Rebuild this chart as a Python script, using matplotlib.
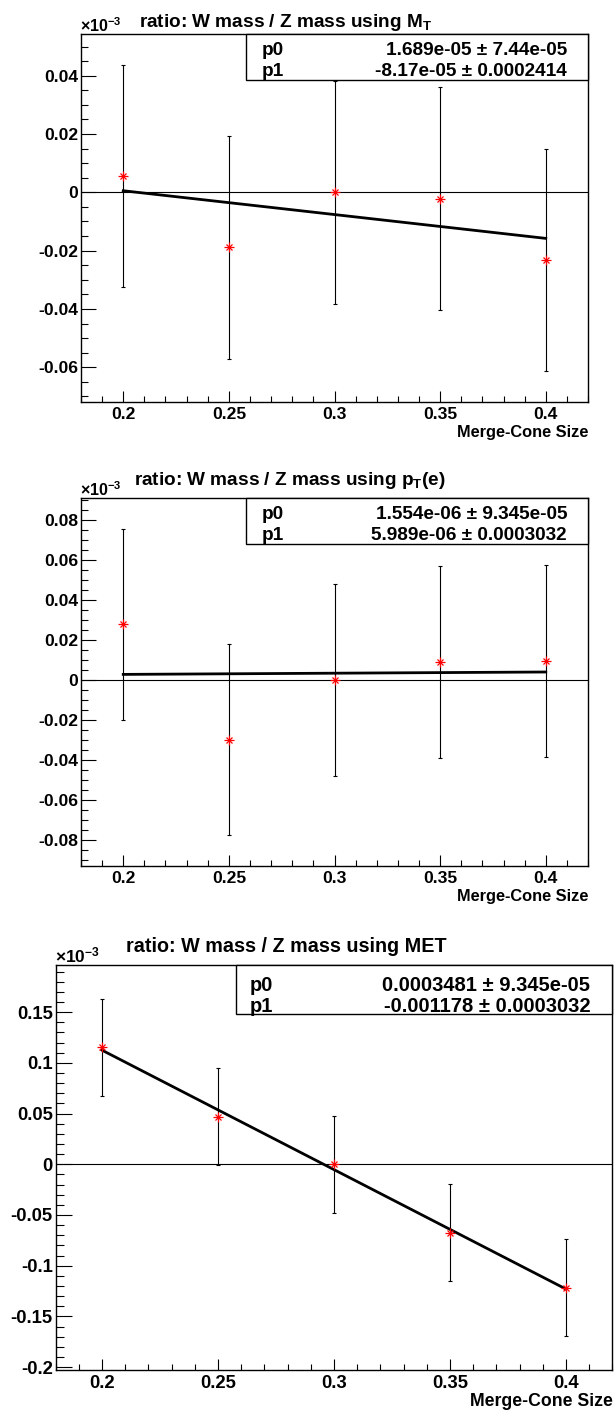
import numpy as np
import matplotlib
matplotlib.use("Agg")
import matplotlib.pyplot as plt
from matplotlib.patches import Rectangle
from matplotlib.ticker import MultipleLocator, FuncFormatter

# ---- data (y values in units of 1e-3) ----
cone_size = [0.2, 0.25, 0.3, 0.35, 0.4]

mt_ratio = [0.0056, -0.0188, 0.0000, -0.0022, -0.0232]
mt_err = [0.0382, 0.0382, 0.0382, 0.0382, 0.0382]
mt_fit = {"p0": (1.689e-05, "1.689e-05", "7.44e-05"),
          "p1": (-8.17e-05, "-8.17e-05", "0.0002414")}

pte_ratio = [0.0277, -0.0298, 0.0000, 0.0088, 0.0095]
pte_err = [0.0479, 0.0479, 0.0479, 0.0479, 0.0479]
pte_fit = {"p0": (1.554e-06, "1.554e-06", "9.345e-05"),
           "p1": (5.989e-06, "5.989e-06", "0.0003032")}

met_ratio = [0.1153, 0.0470, 0.0000, -0.0676, -0.1217]
met_err = [0.0479, 0.0479, 0.0479, 0.0479, 0.0479]
met_fit = {"p0": (0.0003481, "0.0003481", "9.345e-05"),
           "p1": (-0.001178, "-0.001178", "0.0003032")}

titles = ["ratio: W mass / Z mass using M$_{T}$",
          "ratio: W mass / Z mass using p$_{T}$(e)",
          "ratio: W mass / Z mass using MET"]
x_label = "Merge-Cone Size"

# ---- style ----
plt.rcParams["font.family"] = ["Liberation Sans", "DejaVu Sans"]
plt.rcParams["font.weight"] = "bold"
plt.rcParams["mathtext.fontset"] = "custom"
plt.rcParams["mathtext.rm"] = "Liberation Sans:bold"
plt.rcParams["mathtext.it"] = "Liberation Sans:bold"
plt.rcParams["mathtext.bf"] = "Liberation Sans:bold"

W, H = 615, 1415
fig = plt.figure(figsize=(W / 100, H / 100), dpi=100)


def fx(px):
    return px / W


def fy(py):
    return 1 - py / H


def tick_fmt(v, _):
    if abs(v) < 1e-12:
        return "0"
    return f"{round(v, 6):g}"


def draw_panel(frame, yvals, yerr, fit, title, layout):
    x0, y0, x1, y1 = frame
    ax = fig.add_axes([fx(x0), fy(y1), (x1 - x0) / W, (y1 - y0) / H])

    lo = min(v - e for v, e in zip(yvals, yerr))
    hi = max(v + e for v, e in zip(yvals, yerr))
    margin = 0.1 * (hi - lo)
    ax.set_xlim(0.18, 0.42)
    ax.set_ylim(lo - margin, hi + margin)

    ax.axhline(0, color="black", lw=0.8, zorder=1)

    ax.errorbar(cone_size, yvals, yerr=yerr, fmt="none", ecolor="black",
                elinewidth=0.8, capsize=1.2, capthick=0.8, zorder=2)
    ax.plot(cone_size, yvals, ls="none", marker="+", ms=6.5, mew=0.9,
            color="red", zorder=4)
    ax.plot(cone_size, yvals, ls="none", marker="x", ms=4.8, mew=0.9,
            color="red", zorder=4)

    p0 = fit["p0"][0] * 1e3
    p1 = fit["p1"][0] * 1e3
    xf = np.linspace(cone_size[0], cone_size[-1], 50)
    ax.plot(xf, p0 + p1 * xf, color="black", lw=2.0, zorder=3)

    ax.xaxis.set_major_locator(MultipleLocator(0.05))
    ax.xaxis.set_minor_locator(MultipleLocator(0.01))
    ax.yaxis.set_major_locator(MultipleLocator(layout["ymajor"]))
    ax.yaxis.set_minor_locator(MultipleLocator(layout["yminor"]))
    ax.yaxis.set_major_formatter(FuncFormatter(tick_fmt))
    ax.xaxis.set_major_formatter(FuncFormatter(tick_fmt))

    ax.tick_params(which="both", direction="in", top=False, right=False,
                   width=0.8, labelsize=layout["tick_fs"])
    ax.tick_params(axis="y", which="major", length=layout["ymaj_len"], pad=2)
    ax.tick_params(axis="y", which="minor", length=layout["ymaj_len"] / 2)
    ax.tick_params(axis="x", which="major", length=8, pad=3.5)
    ax.tick_params(axis="x", which="minor", length=4)
    for lab in ax.get_xticklabels() + ax.get_yticklabels():
        lab.set_fontweight("bold")
    for sp in ax.spines.values():
        sp.set_linewidth(1.0)

    # title, exponent, axis label
    fig.text(fx(layout["title_x"]), fy(layout["title_y"]), title,
             ha="center", va="baseline", fontsize=layout["title_fs"],
             fontweight="bold")
    fig.text(fx(x0 - 1), fy(y0 - 2.5), "×10$^{-3}$", ha="left", va="baseline",
             fontsize=layout["exp_fs"], fontweight="bold")
    fig.text(fx(x1), fy(layout["xlabel_y"]), x_label, ha="right",
             va="baseline", fontsize=layout["xlabel_fs"], fontweight="bold")

    # fit-result box
    bx0 = layout["box_left"]
    bh = layout["box_h"]
    fig.add_artist(Rectangle((fx(bx0), fy(y0 + bh)), (x1 - bx0) / W, bh / H,
                             transform=fig.transFigure, facecolor="white",
                             edgecolor="black", lw=1.0, zorder=10))
    for name, row_y in zip(["p0", "p1"], layout["row_dy"]):
        _, val, err = fit[name]
        fig.text(fx(bx0 + layout["name_dx"]), fy(y0 + row_y), name,
                 ha="left", va="baseline", fontsize=layout["box_fs"],
                 fontweight="bold", zorder=11)
        fig.text(fx(x1 - layout["val_dx"]), fy(y0 + row_y),
                 f"{val} ± {err}", ha="right", va="baseline",
                 fontsize=layout["box_fs"], fontweight="bold", zorder=11)
    return ax


small = dict(ymajor=0.02, yminor=0.005, tick_fs=12.6, ymaj_len=10.5,
             title_fs=13.7, exp_fs=11.5, xlabel_fs=11.8, box_left=246,
             box_h=46, row_dy=(21, 42), name_dx=16, val_dx=21, box_fs=13.7)

draw_panel((81, 34, 588, 402), mt_ratio, mt_err, mt_fit, titles[0],
           dict(small, title_x=285, title_y=27, xlabel_y=437))
draw_panel((81, 498, 588, 866), pte_ratio, pte_err, pte_fit, titles[1],
           dict(small, title_x=290, title_y=485, xlabel_y=901))
draw_panel((55.6, 965, 612.4, 1370), met_ratio, met_err, met_fit, titles[2],
           dict(ymajor=0.05, yminor=0.01, tick_fs=13.3, ymaj_len=11.5,
                title_fs=14.2, exp_fs=12.5, xlabel_fs=12.7, box_left=236,
                box_h=49, row_dy=(26, 47), name_dx=14, val_dx=22,
                box_fs=14.5, title_x=286, title_y=952, xlabel_y=1406))

fig.savefig("out.png", dpi=100)
